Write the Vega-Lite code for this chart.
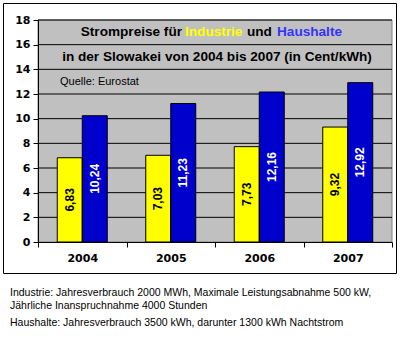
{
  "$schema": "https://vega.github.io/schema/vega-lite/v6.json",
  "width": 393,
  "height": 270,
  "autosize": "none",
  "padding": {"left": 3, "top": 3, "right": 4, "bottom": 81},
  "background": "white",
  "config": {
    "view": {"stroke": "#000000", "strokeWidth": 1, "fill": "white"},
    "title": {"font": "Liberation Sans"}
  },
  "title": {
    "text": ["Industrie: Jahresverbrauch 2000 MWh, Maximale Leistungsabnahme 500 kW,", "Jährliche Inanspruchnahme 4000 Stunden"],
    "subtitle": "Haushalte: Jahresverbrauch 3500 kWh, darunter 1300 kWh Nachtstrom",
    "orient": "bottom",
    "anchor": "start",
    "frame": "group",
    "offset": 15,
    "dx": 7,
    "font": "Liberation Sans",
    "fontSize": 10.5,
    "fontWeight": "normal",
    "color": "#000000",
    "lineHeight": 12.5,
    "subtitleFont": "Liberation Sans",
    "subtitleFontSize": 10.5,
    "subtitleColor": "#000000",
    "subtitlePadding": 7,
    "subtitleLineHeight": 12.5
  },
  "datasets": {
    "prices": [
      {"Jahr": "2004", "Typ": "Industrie", "Preis": 6.83, "Label": "6,83"},
      {"Jahr": "2004", "Typ": "Haushalte", "Preis": 10.24, "Label": "10,24"},
      {"Jahr": "2005", "Typ": "Industrie", "Preis": 7.03, "Label": "7,03"},
      {"Jahr": "2005", "Typ": "Haushalte", "Preis": 11.23, "Label": "11,23"},
      {"Jahr": "2006", "Typ": "Industrie", "Preis": 7.73, "Label": "7,73"},
      {"Jahr": "2006", "Typ": "Haushalte", "Preis": 12.16, "Label": "12,16"},
      {"Jahr": "2007", "Typ": "Industrie", "Preis": 9.32, "Label": "9,32"},
      {"Jahr": "2007", "Typ": "Haushalte", "Preis": 12.92, "Label": "12,92"}
    ],
    "grid": [{"v": 2}, {"v": 4}, {"v": 6}, {"v": 8}, {"v": 10}, {"v": 12}, {"v": 14}, {"v": 16}, {"v": 18}]
  },
  "resolve": {"scale": {"x": "independent", "y": "independent"}},
  "layer": [
    {
      "layer": [
        {
          "data": {"values": [{}]},
          "mark": {"type": "rect", "fill": "#C0C0C0", "stroke": "#808080", "strokeWidth": 1},
          "encoding": {
            "x": {"datum": 0, "type": "quantitative", "scale": {"domain": [0, 4], "range": [35, 389]}, "axis": null},
            "x2": {"datum": 4},
            "y": {"datum": 0, "type": "quantitative", "scale": {"domain": [0, 18], "range": [239, 17]}, "axis": null},
            "y2": {"datum": 18}
          }
        },
        {
          "data": {"name": "grid"},
          "mark": {"type": "rule", "color": "#000000", "strokeWidth": 1},
          "encoding": {
            "x": {"datum": 0, "type": "quantitative"},
            "x2": {"datum": 4},
            "y": {"field": "v", "type": "quantitative"}
          }
        },
        {
          "data": {"values": [{}]},
          "mark": {"type": "text", "text": "Strompreise für", "font": "Liberation Sans", "fontSize": 13.6, "fontWeight": "bold", "color": "#000000", "align": "right", "baseline": "middle", "dx": -33},
          "encoding": {"x": {"datum": 2, "type": "quantitative"}, "y": {"datum": 17, "type": "quantitative"}}
        },
        {
          "data": {"values": [{}]},
          "mark": {"type": "text", "text": "Industrie", "font": "Liberation Sans", "fontSize": 13.6, "fontWeight": "bold", "color": "#FFFF00", "align": "left", "baseline": "middle", "dx": -30},
          "encoding": {"x": {"datum": 2, "type": "quantitative"}, "y": {"datum": 17, "type": "quantitative"}}
        },
        {
          "data": {"values": [{}]},
          "mark": {"type": "text", "text": "und", "font": "Liberation Sans", "fontSize": 13.6, "fontWeight": "bold", "color": "#000000", "align": "left", "baseline": "middle", "dx": 32},
          "encoding": {"x": {"datum": 2, "type": "quantitative"}, "y": {"datum": 17, "type": "quantitative"}}
        },
        {
          "data": {"values": [{}]},
          "mark": {"type": "text", "text": "Haushalte", "font": "Liberation Sans", "fontSize": 13.6, "fontWeight": "bold", "color": "#3333FF", "align": "left", "baseline": "middle", "dx": 62},
          "encoding": {"x": {"datum": 2, "type": "quantitative"}, "y": {"datum": 17, "type": "quantitative"}}
        },
        {
          "data": {"values": [{}]},
          "mark": {"type": "text", "text": "in der Slowakei von 2004 bis 2007 (in Cent/kWh)", "font": "Liberation Sans", "fontSize": 13.6, "fontWeight": "bold", "color": "#000000", "align": "center", "baseline": "middle", "dx": 2},
          "encoding": {"x": {"datum": 2, "type": "quantitative"}, "y": {"datum": 15, "type": "quantitative"}}
        },
        {
          "data": {"values": [{}]},
          "mark": {"type": "text", "text": "Quelle: Eurostat", "font": "Liberation Sans", "fontSize": 11, "color": "#000000", "align": "left", "baseline": "middle", "dx": 22},
          "encoding": {"x": {"datum": 0, "type": "quantitative"}, "y": {"datum": 13, "type": "quantitative"}}
        }
      ]
    },
    {
      "data": {"name": "prices"},
      "mark": {"type": "bar", "stroke": "#000000", "strokeWidth": 1},
      "encoding": {
        "x": {
          "field": "Jahr", "type": "nominal",
          "scale": {"range": [35, 389], "paddingInner": 0, "paddingOuter": 0},
          "axis": {
            "orient": "bottom", "title": null, "labelAngle": 0, "labelFont": "DejaVu Sans", "labelFontSize": 11, "labelFontWeight": "bold",
            "labelColor": "#000000", "tickBand": "extent", "tickSize": 5, "tickColor": "#000000", "domainColor": "#000000",
            "labelPadding": 5, "offset": -31, "zindex": 1, "grid": false
          }
        },
        "xOffset": {"field": "Typ", "type": "nominal", "sort": ["Industrie", "Haushalte"], "scale": {"paddingInner": 0, "paddingOuter": 0.77}},
        "y": {
          "field": "Preis", "type": "quantitative",
          "scale": {"domain": [0, 18], "range": [239, 17], "nice": false},
          "axis": {
            "orient": "left", "title": null, "values": [0, 2, 4, 6, 8, 10, 12, 14, 16, 18], "labelFont": "DejaVu Sans", "labelFontSize": 11,
            "labelFontWeight": "bold", "labelColor": "#000000", "tickSize": 5, "tickColor": "#000000", "domainColor": "#000000",
            "labelPadding": 3, "offset": -35, "zindex": 1, "grid": false
          }
        },
        "color": {"field": "Typ", "type": "nominal", "scale": {"domain": ["Industrie", "Haushalte"], "range": ["#FFFF00", "#0000CC"]}, "legend": null}
      }
    },
    {
      "data": {"name": "prices"},
      "mark": {"type": "text", "angle": 270, "font": "Liberation Sans", "fontSize": 12, "fontWeight": "bold", "align": "center", "baseline": "middle"},
      "encoding": {
        "x": {"field": "Jahr", "type": "nominal", "scale": {"range": [35, 389], "paddingInner": 0, "paddingOuter": 0}, "axis": null},
        "xOffset": {"field": "Typ", "type": "nominal", "sort": ["Industrie", "Haushalte"], "scale": {"paddingInner": 0, "paddingOuter": 0.77}},
        "y": {"field": "Preis", "type": "quantitative", "scale": {"domain": [0, 36], "range": [239, 17], "nice": false}, "axis": null},
        "text": {"field": "Label"},
        "color": {"condition": {"test": "datum.Typ === 'Haushalte'", "value": "#FFFFFF"}, "value": "#000000"}
      }
    }
  ]
}
